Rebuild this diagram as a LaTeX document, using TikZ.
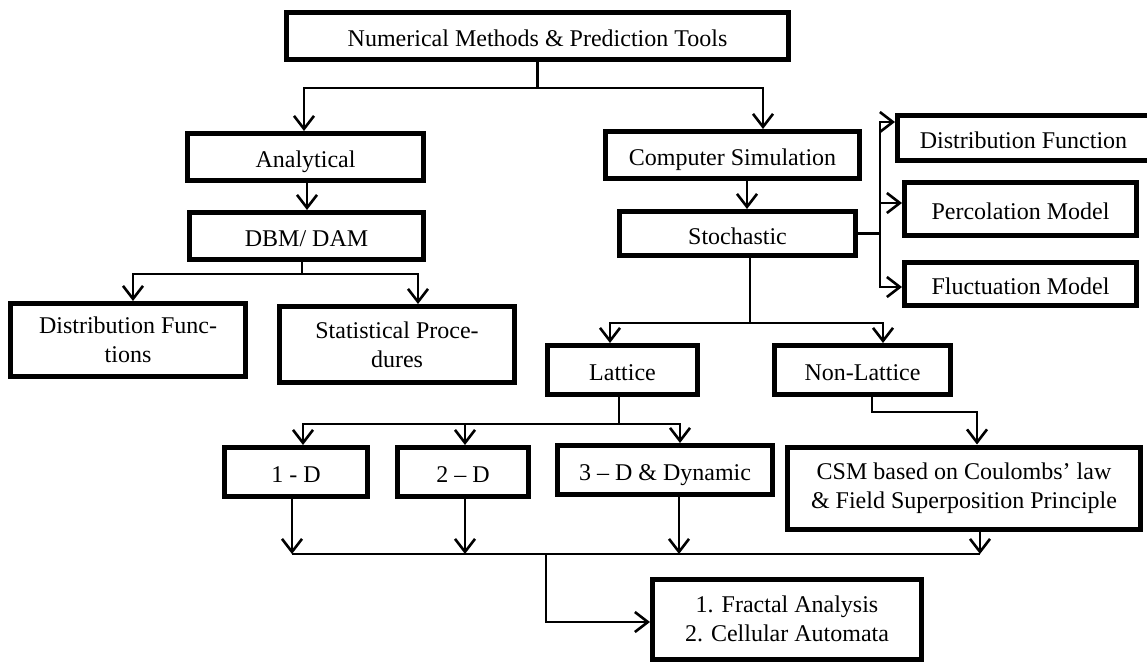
\documentclass[tikz,border=0pt]{standalone}
\usepackage{fontspec}
\setmainfont{Liberation Serif}
\usetikzlibrary{arrows.meta}
\begin{document}
\begin{tikzpicture}[x=1pt,y=-1pt,
  box/.style={draw, line width=5pt, inner sep=0pt, align=center,
    font=\fontsize{24}{28.8}\selectfont},
  one/.style={text height=24pt, text depth=3pt},
  ln/.style={line width=2.6pt},
  arr/.style={ln, -{Straight Barb[length=13pt,width=20pt]}}]
\useasboundingbox (0,0) rectangle (1147,662);

% boxes
\node[box, one, minimum width=502pt, minimum height=47pt] (title) at (537.5,36) {Numerical Methods \& Prediction Tools};
\node[box, one, minimum width=236pt, minimum height=47pt] (analytical) at (305.5,157) {Analytical};
\node[box, one, minimum width=254pt, minimum height=47pt] (compsim) at (732.5,155) {Computer Simulation};
\node[box, one, minimum width=234pt, minimum height=47pt] (dbm) at (306.5,236) {DBM/ DAM};
\node[box, one, minimum width=236pt, minimum height=44pt] (stoch) at (737.5,233.5) {Stochastic};
\node[box, one, minimum width=252pt, minimum height=45pt] (distfun) at (1023.5,138) {Distribution Function};
\node[box, one, minimum width=232pt, minimum height=53pt] (perc) at (1020.5,209) {Percolation Model};
\node[box, one, minimum width=232pt, minimum height=43pt] (fluct) at (1020.5,284) {Fluctuation Model};
\node[box, minimum width=235pt, minimum height=73pt] (distfuncs) at (128,340) {Distribution Func-\\tions};
\node[box, minimum width=235pt, minimum height=76pt] (stat) at (397,344.5) {Statistical Proce-\\dures};
\node[box, one, minimum width=150pt, minimum height=49pt] (lattice) at (622.5,370) {Lattice};
\node[box, one, minimum width=176pt, minimum height=49pt] (nonlattice) at (862.5,370) {Non-Lattice};
\node[box, one, minimum width=143pt, minimum height=49pt] (oneD) at (296,472) {1 - D};
\node[box, one, minimum width=131pt, minimum height=49pt] (twoD) at (463,472) {2 -- D};
\node[box, one, minimum width=215pt, minimum height=49pt] (threeD) at (665,470) {3 -- D \& Dynamic};
\node[box, minimum width=353pt, minimum height=82pt] (csm) at (964,488) {CSM based on Coulombs’ law\\\& Field Superposition Principle};
\node[box, minimum width=269pt, minimum height=80pt] (fractal) at (787,619) {1. Fractal Analysis\\2. Cellular Automata};

% top level split
\draw[ln] (title.south) -- ++(0,26) coordinate (tj);
\draw[arr] (tj) -| ([xshift=-1.5pt]analytical.north);
\draw[arr] (tj) -| ([xshift=30.5pt]compsim.north);

% analytical branch
\draw[arr] ([xshift=1.5pt]analytical.south) -- ([xshift=0.5pt]dbm.north);
\draw[ln] ([xshift=-4.5pt]dbm.south) -- ++(0,12) coordinate (dj);
\draw[arr] (dj) -| ([xshift=5pt]distfuncs.north);
\draw[arr] (dj) -| ([xshift=21pt]stat.north);

% simulation branch
\draw[arr] ([xshift=14.5pt]compsim.south) -- ([xshift=9.5pt]stoch.north);
\draw[ln] (stoch.east) -- ++(22,0) coordinate (sj);
\draw[arr] (sj) |- ([yshift=16pt]distfun.west);
\draw[arr] (sj) |- ([yshift=6pt]perc.west);
\draw[arr] (sj) |- ([yshift=-3pt]fluct.west);

\draw[ln] ([xshift=12.5pt]stoch.south) -- ++(0,65) coordinate (kj);
\draw[arr] (kj) -| ([xshift=-12.5pt]lattice.north);
\draw[arr] (kj) -| ([xshift=20.5pt]nonlattice.north);

% lattice dimensions
\draw[ln] ([xshift=-3.5pt]lattice.south) -- ++(0,27) coordinate (lj);
\draw[arr] (lj) -| ([xshift=7pt]oneD.north);
\draw[arr] (lj) -| ([xshift=2pt]twoD.north);
\draw[arr] (lj) -| ([xshift=15pt]threeD.north);

% non-lattice
\draw[arr] ([xshift=9.5pt]nonlattice.south) -- ++(0,15) -| ([xshift=13pt]csm.north);

% collecting line
\draw[arr] ([xshift=-4pt]oneD.south) -- ++(0,55) coordinate (bL);
\draw[arr] ([xshift=16pt]csm.south) -- ++(0,22.5) coordinate (bR);
\draw[ln] (bL) -- (bR);
\draw[arr] ([xshift=2pt]twoD.south) -- ([xshift=2pt]twoD.south |- bL);
\draw[arr] ([xshift=14pt]threeD.south) -- ([xshift=14pt]threeD.south |- bL);
\draw[arr] ([xshift=-104pt]fractal.west |- bL) |- ([yshift=-3pt]fractal.west);
\end{tikzpicture}
\end{document}
